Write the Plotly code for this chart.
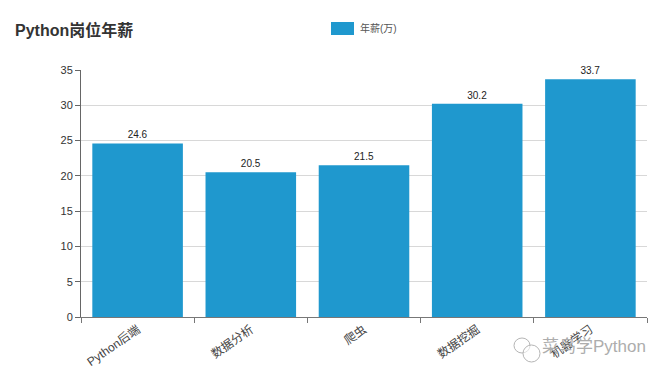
import plotly.graph_objects as go

categories = ["Python后端", "数据分析", "爬虫", "数据挖掘", "机器学习"]
salary = [24.6, 20.5, 21.5, 30.2, 33.7]
series_name = "年薪(万)"
title_text = "Python岗位年薪"
watermark = "菜鸟学Python"
y_ticks = [0, 5, 10, 15, 20, 25, 30, 35]

FONT = "Liberation Sans, Noto Sans CJK SC, sans-serif"
PAGE = 8  # default page margin of the browser
W, H = 672 - PAGE, 385 - PAGE
L, R, T, B = 81 - PAGE, 647 - PAGE, 70 - PAGE, 317 - PAGE
PW, PH = R - L, B - T


def px(x):
    return (x - PAGE - L) / PW


def py(y):
    return (B - (y - PAGE)) / PH


fig = go.Figure(go.Bar(
    x=categories, y=salary, name=series_name,
    marker=dict(color="#1f98ce", line=dict(width=0)),
    text=[f"{v:.1f}" for v in salary], textposition="outside", cliponaxis=False,
    textfont=dict(size=10, color="#222222", family=FONT),
    width=0.8, showlegend=False,
))
fig.update_layout(
    width=W, height=H, paper_bgcolor="#ffffff", plot_bgcolor="#ffffff",
    margin=dict(l=L, r=W - R, t=T, b=H - B, autoexpand=False),
    font=dict(family=FONT, size=11, color="#444444"),
    title=dict(text=f"<b>{title_text}</b>", x=(15 - PAGE) / W, xanchor="left", y=1 - (30 - PAGE) / H,
               yanchor="middle", font=dict(size=16, color="#333333", family=FONT)),
    xaxis=dict(type="category", tickson="boundaries", ticks="outside", ticklen=5, tickcolor="#777777",
               showline=True, linecolor="#777777", linewidth=1, showgrid=False, tickangle=-35,
               tickfont=dict(size=12, color="#444444"), range=[-0.5, 4.5]),
    yaxis=dict(range=[0, 35], tickvals=y_ticks, ticks="outside", ticklen=5, tickcolor="#666666",
               showline=True, linecolor="#666666", linewidth=1, showgrid=True, gridcolor="#d8d8d8",
               zeroline=False, tickfont=dict(size=11, color="#333333")),
    bargap=0.2,
    shapes=[
        dict(type="rect", xref="paper", yref="paper", x0=px(331), x1=px(354), y0=py(35), y1=py(22),
             fillcolor="#1f98ce", line=dict(width=0)),
        dict(type="circle", xref="paper", yref="paper", x0=px(514), x1=px(530), y0=py(353), y1=py(338),
             fillcolor="rgba(0,0,0,0)", line=dict(width=1, color="#b5b5b5")),
        dict(type="circle", xref="paper", yref="paper", x0=px(523), x1=px(540), y0=py(362), y1=py(345),
             fillcolor="rgba(255,255,255,0.6)", line=dict(width=1, color="#b5b5b5")),
    ],
    annotations=[
        dict(text=series_name, xref="paper", yref="paper", x=px(358), y=py(28),
             xanchor="left", yanchor="middle", showarrow=False, font=dict(size=10, color="#555555")),
        dict(text=watermark, xref="paper", yref="paper", x=px(648), y=py(346), xanchor="right",
             yanchor="middle", showarrow=False, font=dict(size=17, color="#adadad")),
    ],
)
fig.write_html("out.html")
